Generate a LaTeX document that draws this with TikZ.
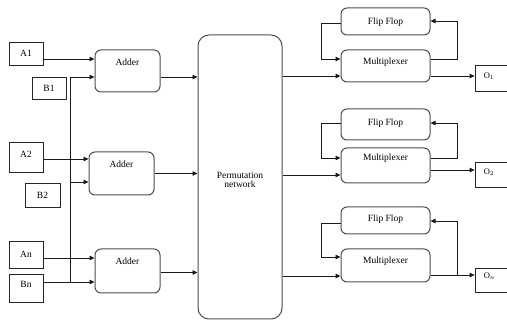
\documentclass[tikz,border=0pt]{standalone}
\usepackage{fontspec}
\setmainfont{Liberation Serif}
\usetikzlibrary{arrows.meta}
\begin{document}
\begin{tikzpicture}[x=1pt,y=-1pt,
  inbox/.style={draw=black!85,line width=0.8pt,inner sep=0pt,minimum width=#1},
  rbox/.style={draw=black!70,line width=1pt,rounded corners=6pt,inner sep=0pt},
  lbl/.style={font=\fontsize{9.5}{10}\selectfont,inner sep=0pt},
  olbl/.style={font=\fontsize{8.5}{9}\selectfont,inner sep=0pt,anchor=west},
  conn/.style={draw=black!90,line width=0.8pt},
  arr/.style={conn,-{Triangle[length=5pt,width=4.5pt]}}]
\useasboundingbox (0,0) rectangle (507,320);
% input boxes
\node[inbox=34pt,minimum height=23pt] (A1) at (26,53.5) {};
\node[lbl] (tA1) at (A1) {A1};
\node[inbox=34pt,minimum height=22pt] (B1) at (49,88) {};
\node[lbl] (tB1) at (B1) {B1};
\node[inbox=34pt,minimum height=30pt] (A2) at (26,157) {};
\node[lbl] (tA2) at ([yshift=3pt]A2) {A2};
\node[inbox=35pt,minimum height=24pt] (B2) at (42.5,195) {};
\node[lbl] (tB2) at (B2) {B2};
\node[inbox=34pt,minimum height=27pt] (An) at (26,254.5) {};
\node[lbl] (tAn) at (An) {An};
\node[inbox=34pt,minimum height=28pt] (Bn) at (26,288) {};
\node[lbl] (tBn) at ([yshift=4pt]Bn) {Bn};
% adders
\node[rbox,minimum width=65pt,minimum height=42pt] (ad1) at (127.5,71) {};
\node[lbl] (tad1) at ([yshift=-13pt]ad1.north) {Adder};
\node[rbox,minimum width=65pt,minimum height=43pt] (ad2) at (121.5,173.5) {};
\node[lbl] (tad2) at ([yshift=-13pt]ad2.north) {Adder};
\node[rbox,minimum width=65pt,minimum height=44pt] (ad3) at (127.5,271) {};
\node[lbl] (tad3) at ([yshift=-13pt]ad3.north) {Adder};
% permutation network
\node[rbox,rounded corners=11pt,minimum width=84pt,minimum height=284pt] (pn) at (240,177) {};
\node[lbl,align=center,font=\fontsize{9.5}{9.5}\selectfont] (tpn) at (240,180) {Permutation\\network};
% flip flops and multiplexers
\node[rbox,minimum width=89pt,minimum height=27pt] (ff1) at (385.5,21.5) {};
\node[lbl] (tff1) at ([yshift=-1pt]ff1) {Flip Flop};
\node[rbox,minimum width=89pt,minimum height=32pt] (mx1) at (385.5,66) {};
\node[lbl] (tmx1) at ([yshift=4pt]mx1) {Multiplexer};
\node[rbox,minimum width=89pt,minimum height=31pt] (ff2) at (385.5,124.5) {};
\node[lbl] (tff2) at ([yshift=1pt]ff2) {Flip Flop};
\node[rbox,minimum width=89pt,minimum height=35pt] (mx2) at (385.5,165.5) {};
\node[lbl] (tmx2) at ([yshift=7pt]mx2) {Multiplexer};
\node[rbox,minimum width=89pt,minimum height=27pt] (ff3) at (385.5,220.5) {};
\node[lbl] (tff3) at ([yshift=1pt]ff3) {Flip Flop};
\node[rbox,minimum width=89pt,minimum height=33pt] (mx3) at (385.5,265.5) {};
\node[lbl] (tmx3) at ([yshift=4pt]mx3) {Multiplexer};
% outputs
\node[inbox=38pt,minimum height=26pt] (o1) at (494,78) {};
\node[olbl] (to1) at ([xshift=9pt,yshift=2pt]o1.west) {O$_1$};
\node[inbox=38pt,minimum height=25pt] (o2) at (494,174.5) {};
\node[olbl] (to2) at ([xshift=9pt,yshift=2pt]o2.west) {O$_2$};
\node[inbox=38pt,minimum height=24pt] (o3) at (494,280) {};
\node[olbl] (to3) at ([xshift=9pt,yshift=4pt]o3.west) {O$_n$};
% bus
\coordinate (bt) at (70,77);
\coordinate (bm) at (70,182);
\coordinate (bb) at (70,282);
\draw[arr] (bb) -- (bt) -- (ad1.west |- bt);
\draw[arr] (bm) -- (ad2.west |- bm);
\draw[arr] (Bn.east |- bb) -- (ad3.west |- bb);
% A inputs
\draw[arr] (A1.east |- 0,59) -- (ad1.west |- 0,59);
\draw[arr] (A2.east |- 0,159) -- (ad2.west |- 0,159);
\draw[arr] (An.east |- 0,258) -- (ad3.west |- 0,258);
% adders to network
\draw[arr] (ad1.east |- 0,77) -- (pn.west |- 0,77);
\draw[arr] (ad2.east |- 0,173.5) -- (pn.west |- 0,173.5);
\draw[arr] (ad3.east |- 0,272.5) -- (pn.west |- 0,272.5);
% network to multiplexers
\draw[arr] (pn.east |- 0,76) -- (mx1.west |- 0,76);
\draw[arr] (pn.east |- 0,175) -- (mx2.west |- 0,175);
\draw[arr] (pn.east |- 0,276) -- (mx3.west |- 0,276);
% feedback loops
\draw[arr] (ff1.west |- 0,23) -- (321,23) -- (321,59) -- (mx1.west |- 0,59);
\draw[arr] (mx1.east |- 0,59) -- (457,59) -- (457,21) -- (ff1.east |- 0,21);
\draw[arr] (ff2.west |- 0,123) -- (321,123) -- (321,158) -- (mx2.west |- 0,158);
\draw[arr] (mx2.east |- 0,158) -- (457,158) -- (457,123) -- (ff2.east |- 0,123);
\draw[arr] (ff3.west |- 0,223) -- (321,223) -- (321,257) -- (mx3.west |- 0,257);
\draw[arr] (457,275) -- (457,221) -- (ff3.east |- 0,221);
% multiplexers to outputs
\draw[arr] (mx1.east |- 0,76) -- (o1.west |- 0,76);
\draw[arr] (mx2.east |- 0,170) -- (o2.west |- 0,170);
\draw[arr] (mx3.east |- 0,275) -- (o3.west |- 0,275);
\end{tikzpicture}
\end{document}
